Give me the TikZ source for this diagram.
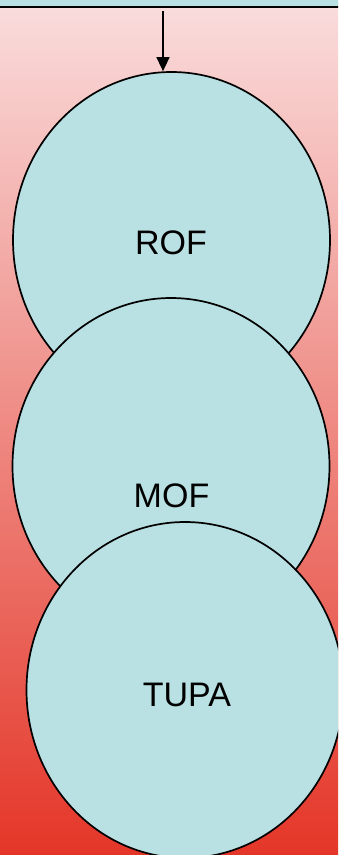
\documentclass[tikz,border=0pt]{standalone}
\usepackage{fontspec}
\setmainfont{Liberation Sans}
\usetikzlibrary{shapes.geometric,arrows.meta}
\definecolor{cellblue}{RGB}{185,224,227}
\definecolor{bgtop}{RGB}{249,221,221}
\definecolor{bgbot}{RGB}{228,54,40}
\begin{document}
\begin{tikzpicture}[x=1pt, y=-1pt, font=\fontsize{34}{40}\selectfont, line join=round,
		blob/.style={ellipse, draw, line width=1.7pt, fill=cellblue, minimum width=317pt, minimum height=336pt, inner sep=0pt},
		tag/.style={inner sep=0pt, anchor=center},
		>={Triangle[width=13pt,length=14pt]}]
			\def\W{338} \def\H{855}
			\useasboundingbox (0,0) rectangle (\W,\H);
			\clip (0,0) rectangle (\W,\H);
			% Hintergrund
			\shade[top color=bgtop, bottom color=bgbot] (0,0) rectangle (\W,\H);
			\node[draw, line width=1.8pt, fill=cellblue, minimum width=350pt, minimum height=20pt, anchor=south, inner sep=0pt] (head) at (169,7.5) {};
			% Ellipsen
			\node[blob] (rof) at (171.5,240) {};
			\node[blob] (mof) at (171,466) {};
			\node[blob] (tupa) at (185,690) {};
			\node[tag] (rofT) at (171,243) {ROF};
			\node[tag] (mofT) at (171.5,496) {MOF};
			\node[tag] (tupaT) at (187,695) {TUPA};
			\coordinate (src) at (163,11);
			\draw[->, line width=1.3pt] (src) -- (src |- rof.north);
		\end{tikzpicture}
\end{document}
